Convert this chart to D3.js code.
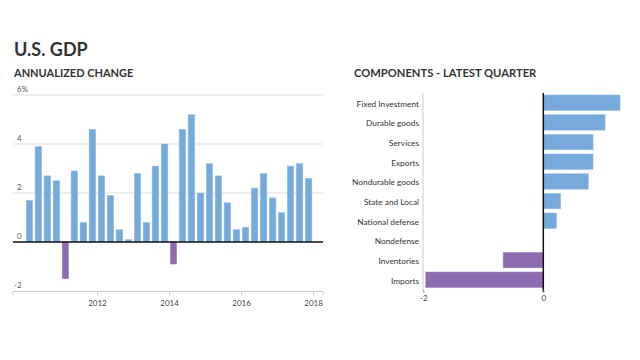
<!DOCTYPE html>
<html><head><meta charset="utf-8">
<script src="https://cdn.jsdelivr.net/npm/d3@7"></script>
<style>body{margin:0;background:#fff}svg{display:block}text{font-family:Lato,"Open Sans",sans-serif}</style>
</head><body><svg id="c" width="640" height="360"></svg>
<script>
const quarters = ["2010Q1","2010Q2","2010Q3","2010Q4","2011Q1","2011Q2","2011Q3","2011Q4","2012Q1","2012Q2","2012Q3","2012Q4","2013Q1","2013Q2","2013Q3","2013Q4","2014Q1","2014Q2","2014Q3","2014Q4","2015Q1","2015Q2","2015Q3","2015Q4","2016Q1","2016Q2","2016Q3","2016Q4","2017Q1","2017Q2","2017Q3","2017Q4"];
const gdpChange = [1.7,3.9,2.7,2.5,-1.5,2.9,0.8,4.6,2.7,1.9,0.5,0.1,2.8,0.8,3.1,4.0,-0.9,4.6,5.2,2.0,3.2,2.7,1.6,0.5,0.6,2.2,2.8,1.8,1.2,3.1,3.2,2.6];
const yTicks = [-2,0,2,4,6];
const yearTicks = [2012,2014,2016,2018];
const components = ["Fixed Investment","Durable goods","Services","Exports","Nondurable goods","State and Local","National defense","Nondefense","Inventories","Imports"];
const componentValues = [1.28,1.03,0.83,0.83,0.75,0.29,0.22,0,-0.67,-1.96];
const compTicks = [-2,0];

const svg = d3.select("#c");
const blue = "#77aadc", purple = "#8c6bb0";

svg.append("text").attr("x",14).attr("y",56).attr("font-size",18).attr("font-weight",700).attr("fill","#333").text("U.S. GDP");
svg.append("text").attr("x",14).attr("y",77).attr("font-size",11).attr("font-weight",700).attr("fill","#333").text("ANNUALIZED CHANGE");
svg.append("text").attr("x",354).attr("y",77).attr("font-size",11.2).attr("font-weight",700).attr("fill","#333").text("COMPONENTS - LATEST QUARTER");

// Left chart
const qDate = q => new Date(+q.slice(0,4), (+q.slice(5)-1)*3, 1);
const qEnd = q => { const d = qDate(q); return new Date(d.getFullYear(), d.getMonth()+3, 1); };
const x = d3.scaleTime().domain([new Date(2010,0,1), new Date(2018,3,1)]).range([25,322]);
const y = d3.scaleLinear().domain([-2,6]).range([291,95]);
const gL = svg.append("g");
yTicks.forEach(t => {
  if (t !== 0 && t !== -2) gL.append("line").attr("x1",13).attr("x2",323).attr("y1",y(t)).attr("y2",y(t)).attr("stroke","#ddd").attr("stroke-width",1);
  gL.append("text").attr("x", t<0?14:17).attr("y", y(t)-3).attr("font-size",8).attr("fill","#555").text(t===6?"6%":t);
});
// bottom axis
const xAxis = d3.axisBottom(x).tickValues(yearTicks.map(v=>new Date(v,0,1))).tickFormat(d3.timeFormat("%Y")).tickSize(4).tickSizeOuter(4);
const ax = gL.append("g").attr("transform","translate(0,291.5)").call(xAxis);
ax.select(".domain").attr("stroke","#ccc").attr("d","M13,4V0H323V4");
ax.selectAll(".tick line").attr("stroke","#ccc");
ax.selectAll(".tick text").attr("font-family","Lato,sans-serif").attr("font-size",8).attr("fill","#444").attr("dy","0.75em").attr("y",8);

gL.selectAll("rect.b").data(quarters).join("rect")
  .attr("x", q => x(qDate(q))+1.2)
  .attr("width", q => x(qEnd(q)) - x(qDate(q)) - 2.4)
  .attr("y", (q,i) => y(Math.max(0,gdpChange[i])))
  .attr("height", (q,i) => Math.abs(y(gdpChange[i]) - y(0)))
  .attr("fill", (q,i) => gdpChange[i] < 0 ? purple : blue)
  .attr("stroke", (q,i) => gdpChange[i] < 0 ? "#a68cc4" : "#9cc2e6").attr("stroke-width",0.5);
gL.append("line").attr("x1",13).attr("x2",323).attr("y1",y(0)).attr("y2",y(0)).attr("stroke","#111").attr("stroke-width",1.5);

// Right chart
const xr = d3.scaleLinear().domain([-2,0]).range([423.3,543.3]);
const yr = d3.scaleBand().domain(components).range([93,289.5]).paddingInner(0.21).paddingOuter(0.1);
const gR = svg.append("g");
gR.append("line").attr("x1",423).attr("x2",423).attr("y1",93).attr("y2",290).attr("stroke","#ccc").attr("stroke-width",1);
gR.selectAll("rect").data(components).join("rect")
  .attr("x",(c,i)=>xr(Math.min(0,componentValues[i])))
  .attr("width",(c,i)=>Math.abs(xr(componentValues[i])-xr(0)))
  .attr("y",c=>yr(c)).attr("height",yr.bandwidth())
  .attr("fill",(c,i)=>componentValues[i]<0?purple:blue)
  .attr("stroke",(c,i)=>componentValues[i]<0?"#a68cc4":"#9cc2e6").attr("stroke-width",0.5);
gR.selectAll("text.l").data(components).join("text").attr("class","l")
  .attr("x",419).attr("y",c=>yr(c)+yr.bandwidth()/2+1).attr("dy","0.35em")
  .attr("text-anchor","end").attr("font-size",8.3).attr("fill","#333").text(c=>c);
gR.append("line").attr("x1",xr(0)).attr("x2",xr(0)).attr("y1",93).attr("y2",292).attr("stroke","#111").attr("stroke-width",1.5);
const axR = d3.axisBottom(xr).tickValues(compTicks).tickSize(3).tickSizeOuter(0);
const ar = gR.append("g").attr("transform","translate(0,290)").call(axR);
ar.select(".domain").remove();
ar.selectAll(".tick line").attr("stroke","#999");
ar.selectAll(".tick text").attr("font-family","Lato,sans-serif").attr("font-size",8).attr("fill","#444").attr("y",5).attr("dy","0.75em").text(d=>d);
</script></body></html>
